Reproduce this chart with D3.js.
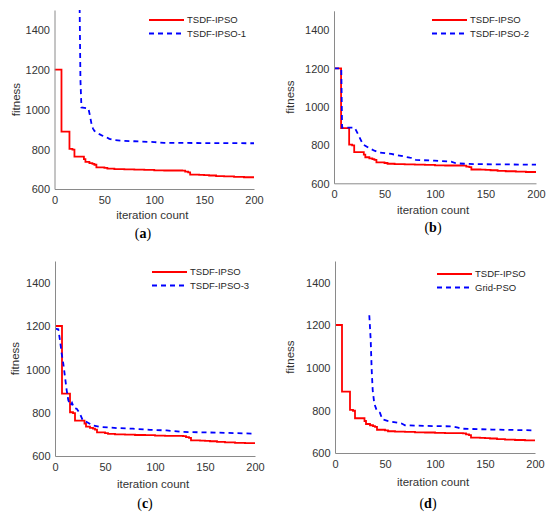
<!DOCTYPE html>
<html>
<head>
<meta charset="utf-8">
<script src="https://cdn.jsdelivr.net/npm/d3@7"></script>
<style>
    body { margin: 0; background: #fff; }
    svg { display: block; }
    .tick-label { font-family: "Liberation Sans", Arial, sans-serif; font-size: 11px; fill: #333333; }
    .axis-title { font-family: "Liberation Sans", Arial, sans-serif; font-size: 11.5px; fill: #333333; }
    .legend-text { font-family: "Liberation Sans", Arial, sans-serif; font-size: 9.5px; fill: #262626; }
    .caption { font-family: "Liberation Serif", "Times New Roman", serif; font-size: 14px; fill: #000; }
</style>
</head>
<body>
<svg id="chart" width="550" height="514"></svg>
<script>
// iteration / fitness pairs
const tsdfIpso = [
    [0, 1200], [7, 888], [15, 802], [18, 798], [20, 763], [29.5, 750], [31, 736], [35, 730],
    [38, 726], [40, 722], [42, 709], [50, 706], [53, 702], [60, 700], [70, 699], [80, 697],
    [90, 696], [100, 694], [110, 693], [128, 692], [131, 687], [134, 684], [136, 672],
    [145, 671], [150, 670], [155, 668], [162, 665], [170, 663], [180, 661], [190, 659], [200, 658]
];
const tsdfIpso1 = [
    [25, 1600], [26, 1150], [27, 1010], [30, 1008], [34, 1005], [35.5, 970], [37, 930],
    [38.5, 905], [40, 892], [42, 885], [45, 876], [48, 868], [52, 860], [55, 852], [60, 846],
    [70, 842], [80, 840], [100, 836], [110, 832], [150, 831], [200, 830]
];
const tsdfIpso2 = [
    [0, 1200], [7.2, 1200], [8, 890], [20.4, 890], [22, 875], [25, 843], [28.7, 803],
    [35, 783], [40, 770], [45, 761], [56.7, 753], [66.5, 743], [75, 734], [78, 732],
    [81, 722], [99.5, 718], [116, 713], [121, 704], [139, 700], [200, 697]
];
const tsdfIpso3 = [
    [0, 1188], [3.3, 1185], [5, 1134], [6.7, 1072], [8.3, 1026], [10, 965], [11.7, 903],
    [13.3, 857], [15.7, 834], [17, 845], [19, 822], [21.7, 818], [25, 795], [27.7, 765],
    [31.7, 757], [38, 741], [45, 734], [61.7, 729], [78, 726], [95, 721], [111.7, 718],
    [128, 711], [161.7, 708], [200, 703]
];
const gridPso = [
    [34.3, 1246], [35.7, 1129], [36.7, 988], [37.7, 894], [39.3, 832], [41.7, 800], [45, 788],
    [47.3, 758], [53.3, 750], [66.7, 738], [70, 730], [90, 727], [116.7, 725], [123, 719],
    [126.7, 714], [156.7, 710], [200, 706]
];

const xTicks = [0, 50, 100, 150, 200];
const yTicks = [600, 800, 1000, 1200, 1400];
const xDomain = [0, 200];
const yDomain = [600, 1500];
const baseLabel = "TSDF-IPSO";
const compareLabels = ["TSDF-IPSO-1", "TSDF-IPSO-2", "TSDF-IPSO-3", "Grid-PSO"];
const compareSeries = [tsdfIpso1, tsdfIpso2, tsdfIpso3, gridPso];
const captions = ["a", "b", "c", "d"];

// panel boxes in page pixels
const panelBoxes = [
    {left: 54.5, right: 254, top: 10, bottom: 189, legendX: 149, legendY: 20, capX: 143, capY: 238, tickY: 204, titleY: 219, ylabX: 19.5},
    {left: 334, right: 536, top: 10.8, bottom: 183.3, legendX: 432, legendY: 20, capX: 433, capY: 232, tickY: 198, titleY: 214, ylabX: 294},
    {left: 55, right: 255, top: 261, bottom: 456, legendX: 152, legendY: 272, capX: 145, capY: 508, tickY: 471, titleY: 488, ylabX: 18.5},
    {left: 335, right: 535, top: 261, bottom: 453, legendX: 437, legendY: 274, capX: 428, capY: 508, tickY: 468, titleY: 486, ylabX: 294}
];

const svg = d3.select("#chart");
const plainNumber = d3.format("d");

function drawPanel(i) {
    let box = panelBoxes[i];
    let g = svg.append("g").attr("class", "panel");

    let x = d3.scaleLinear().domain(xDomain).range([box.left, box.right]);
    let y = d3.scaleLinear().domain(yDomain).range([box.bottom, box.top]);

    let clipId = `clip_${i}`;
    g.append("clipPath").attr("id", clipId).append("rect")
        .attr("x", box.left).attr("y", box.top)
        .attr("width", box.right - box.left).attr("height", box.bottom - box.top);

    let line = d3.line().x(d => x(d[0])).y(d => y(d[1]));
    let plot = g.append("g").attr("clip-path", `url(#${clipId})`);

    plot.append("path").datum(tsdfIpso)
        .attr("d", line.curve(d3.curveStepAfter))
        .attr("fill", "none").attr("stroke", "#ff0000").attr("stroke-width", 1.8);

    plot.append("path").datum(compareSeries[i])
        .attr("d", line.curve(d3.curveLinear))
        .attr("fill", "none").attr("stroke", "#0000ff").attr("stroke-width", 1.8)
        .attr("stroke-dasharray", "5,4");

    // axes, MATLAB style: no ticks, box off
    let xAxis = d3.axisBottom(x).tickValues(xTicks).tickFormat(plainNumber).tickSize(0).tickPadding(0);
    let yAxis = d3.axisLeft(y).tickValues(yTicks).tickFormat(plainNumber).tickSize(0).tickPadding(0);

    let gx = g.append("g").attr("transform", `translate(0,${box.bottom})`).call(xAxis);
    let gy = g.append("g").attr("transform", `translate(${box.left},0)`).call(yAxis);
    gx.select(".domain").attr("stroke", "#8a8a8a");
    gy.select(".domain").attr("stroke", "#8a8a8a");
    gx.selectAll("text").attr("class", "tick-label").attr("dy", null)
        .attr("y", box.tickY - box.bottom);
    gy.selectAll("text").attr("class", "tick-label").attr("dy", "0.35em").attr("x", -4.5);
    gx.attr("font-size", null).attr("font-family", null);
    gy.attr("font-size", null).attr("font-family", null);

    g.append("text").attr("class", "axis-title").attr("text-anchor", "middle")
        .attr("x", (box.left + box.right) / 2 - 2).attr("y", box.titleY).text("iteration count");

    g.append("text").attr("class", "axis-title").attr("text-anchor", "middle")
        .attr("transform", `translate(${box.ylabX},${(box.top + box.bottom) / 2}) rotate(-90)`)
        .text("fitness");

    // legend
    let lg = g.append("g").attr("transform", `translate(${box.legendX},${box.legendY})`);
    lg.append("line").attr("x1", 0).attr("x2", 35).attr("y1", 0).attr("y2", 0)
        .attr("stroke", "#ff0000").attr("stroke-width", 1.8);
    lg.append("text").attr("class", "legend-text").attr("x", 38).attr("y", 0).attr("dy", "0.35em").text(baseLabel);
    lg.append("line").attr("x1", 0).attr("x2", 35).attr("y1", 13.5).attr("y2", 13.5)
        .attr("stroke", "#0000ff").attr("stroke-width", 1.8).attr("stroke-dasharray", "5,4");
    lg.append("text").attr("class", "legend-text").attr("x", 38).attr("y", 13.5).attr("dy", "0.35em").text(compareLabels[i]);

    // sub-figure caption
    let cap = g.append("text").attr("class", "caption").attr("text-anchor", "middle")
        .attr("x", box.capX).attr("y", box.capY);
    cap.append("tspan").text("(");
    cap.append("tspan").attr("font-weight", "bold").text(captions[i]);
    cap.append("tspan").text(")");
}

for (let i = 0; i < panelBoxes.length; i++) {
    drawPanel(i);
}
</script>
</body>
</html>
